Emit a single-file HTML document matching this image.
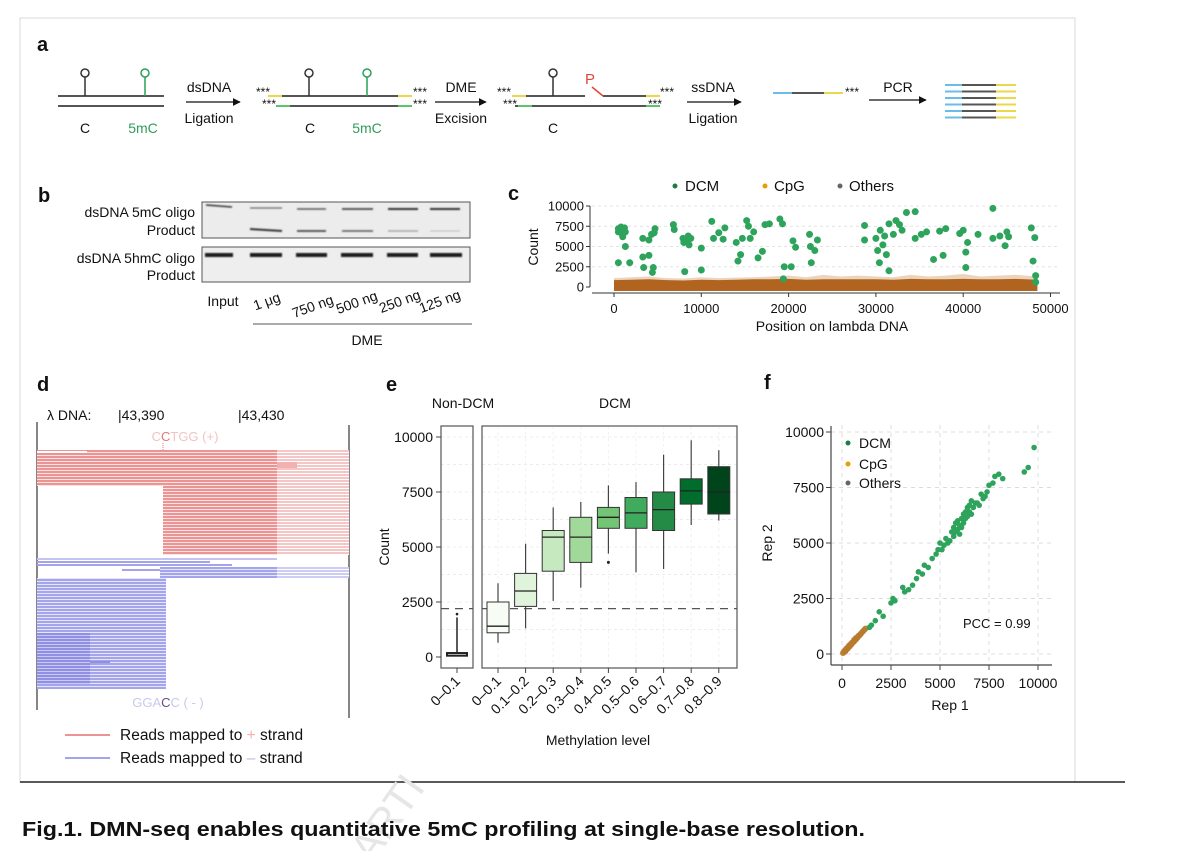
<!DOCTYPE html>
<html><head><meta charset="utf-8">
<style>
html,body{margin:0;padding:0;background:#fff;}
svg{display:block;font-family:"Liberation Sans",Arial,sans-serif;}
</style></head>
<body>
<svg id="fig" width="1200" height="851" viewBox="0 0 1200 851" xmlns="http://www.w3.org/2000/svg">
<defs>
  <pattern id="pRed" width="4" height="3" patternUnits="userSpaceOnUse"><rect width="4" height="3" fill="#fbe3e3"/><rect width="4" height="2" fill="#ec9494"/></pattern>
  <pattern id="pRedL" width="4" height="3" patternUnits="userSpaceOnUse"><rect width="4" height="3" fill="#fff"/><rect width="4" height="2" fill="#f5c6c6"/></pattern>
  <pattern id="pBlue" width="4" height="3" patternUnits="userSpaceOnUse"><rect width="4" height="3" fill="#e6e6fb"/><rect width="4" height="2" fill="#a4a4ec"/></pattern>
  <pattern id="pBlueD" width="4" height="3" patternUnits="userSpaceOnUse"><rect width="4" height="3" fill="#c9c9f3"/><rect width="4" height="2" fill="#8f8fe3"/></pattern>
  <pattern id="pBlueL" width="4" height="3" patternUnits="userSpaceOnUse"><rect width="4" height="3" fill="#fff"/><rect width="4" height="2" fill="#ccccf5"/></pattern>
  <filter id="blur1"><feGaussianBlur stdDeviation="0.8"/></filter>
  <marker id="arr" viewBox="0 0 10 10" refX="9" refY="5" markerWidth="6" markerHeight="6" orient="auto"><path d="M0,0L10,5L0,10z" fill="#111"/></marker>
</defs>

<rect x="20" y="18" width="1055" height="764" fill="none" stroke="#d8d8d8" stroke-width="1"/>
<line x1="20" y1="782" x2="1125" y2="782" stroke="#222" stroke-width="1.5"/>
<text x="330" y="835" font-size="42" fill="#e6e6e6" transform="rotate(-55 380 810)">ARTI</text>
<text x="22" y="836" font-size="20" font-weight="bold" fill="#111" textLength="843" lengthAdjust="spacingAndGlyphs">Fig.1. DMN-seq enables quantitative 5mC profiling at single-base resolution.</text>

<!-- Panel a -->
<g font-size="14" fill="#111">
  <text x="37" y="51" font-size="20" font-weight="bold">a</text>
  <line x1="58" y1="96" x2="164" y2="96" stroke="#555" stroke-width="2"/>
  <line x1="58" y1="106" x2="164" y2="106" stroke="#555" stroke-width="2"/>
  <line x1="85" y1="77" x2="85" y2="96" stroke="#333" stroke-width="1.5"/><circle cx="85" cy="73" r="4" fill="#fff" stroke="#333" stroke-width="1.5"/>
  <line x1="145" y1="77" x2="145" y2="96" stroke="#2e9e5b" stroke-width="1.5"/><circle cx="145" cy="73" r="4" fill="#fff" stroke="#2e9e5b" stroke-width="1.5"/>
  <text x="85" y="133" text-anchor="middle">C</text>
  <text x="143" y="133" text-anchor="middle" fill="#2e9e5b">5mC</text>
  <text x="209" y="92" text-anchor="middle">dsDNA</text>
  <line x1="186" y1="102" x2="240" y2="102" stroke="#111" stroke-width="1.3" marker-end="url(#arr)"/>
  <text x="209" y="123" text-anchor="middle">Ligation</text>
  <text x="256" y="96" font-size="12">***</text><text x="262" y="108" font-size="12">***</text>
  <line x1="279" y1="96" x2="410" y2="96" stroke="#555" stroke-width="2"/>
  <line x1="279" y1="106" x2="410" y2="106" stroke="#555" stroke-width="2"/>
  <line x1="268" y1="96" x2="282" y2="96" stroke="#e8d84a" stroke-width="2"/><line x1="398" y1="96" x2="412" y2="96" stroke="#e8d84a" stroke-width="2"/>
  <line x1="276" y1="106" x2="290" y2="106" stroke="#5cc46a" stroke-width="2"/><line x1="398" y1="106" x2="412" y2="106" stroke="#5cc46a" stroke-width="2"/>
  <line x1="309" y1="77" x2="309" y2="96" stroke="#333" stroke-width="1.5"/><circle cx="309" cy="73" r="4" fill="#fff" stroke="#333" stroke-width="1.5"/>
  <line x1="367" y1="77" x2="367" y2="96" stroke="#2e9e5b" stroke-width="1.5"/><circle cx="367" cy="73" r="4" fill="#fff" stroke="#2e9e5b" stroke-width="1.5"/>
  <text x="310" y="133" text-anchor="middle">C</text>
  <text x="367" y="133" text-anchor="middle" fill="#2e9e5b">5mC</text>
  <text x="413" y="96" font-size="12">***</text><text x="413" y="108" font-size="12">***</text>
  <text x="461" y="92" text-anchor="middle">DME</text>
  <line x1="435" y1="102" x2="486" y2="102" stroke="#111" stroke-width="1.3" marker-end="url(#arr)"/>
  <text x="461" y="123" text-anchor="middle">Excision</text>
  <text x="497" y="96" font-size="12">***</text><text x="503" y="108" font-size="12">***</text>
  <line x1="515" y1="96" x2="585" y2="96" stroke="#555" stroke-width="2"/>
  <line x1="603" y1="96" x2="658" y2="96" stroke="#555" stroke-width="2"/>
  <line x1="515" y1="106" x2="658" y2="106" stroke="#555" stroke-width="2"/>
  <line x1="512" y1="96" x2="526" y2="96" stroke="#e8d84a" stroke-width="2"/><line x1="646" y1="96" x2="660" y2="96" stroke="#e8d84a" stroke-width="2"/>
  <line x1="518" y1="106" x2="532" y2="106" stroke="#5cc46a" stroke-width="2"/><line x1="646" y1="106" x2="660" y2="106" stroke="#5cc46a" stroke-width="2"/>
  <line x1="553" y1="77" x2="553" y2="96" stroke="#333" stroke-width="1.5"/><circle cx="553" cy="73" r="4" fill="#fff" stroke="#333" stroke-width="1.5"/>
  <text x="585" y="84" fill="#e0463a" font-size="15">P</text>
  <line x1="592" y1="87" x2="603" y2="96" stroke="#e0463a" stroke-width="1.5"/>
  <text x="553" y="133" text-anchor="middle">C</text>
  <text x="660" y="96" font-size="12">***</text><text x="648" y="108" font-size="12">***</text>
  <text x="713" y="92" text-anchor="middle">ssDNA</text>
  <line x1="687" y1="102" x2="741" y2="102" stroke="#111" stroke-width="1.3" marker-end="url(#arr)"/>
  <text x="713" y="123" text-anchor="middle">Ligation</text>
  <line x1="773" y1="93" x2="792" y2="93" stroke="#6bbde8" stroke-width="2"/>
  <line x1="792" y1="93" x2="824" y2="93" stroke="#555" stroke-width="2"/>
  <line x1="824" y1="93" x2="843" y2="93" stroke="#e8d84a" stroke-width="2"/>
  <text x="845" y="96" font-size="12">***</text>
  <text x="898" y="92" text-anchor="middle">PCR</text>
  <line x1="869" y1="100" x2="926" y2="100" stroke="#111" stroke-width="1.3" marker-end="url(#arr)"/>
  <g><g id="pcrLines"></g></g>
</g>

<!-- Panel b -->
<g font-size="14" fill="#111">
  <text x="38" y="202" font-size="20" font-weight="bold">b</text>
  <text x="195" y="217" text-anchor="end">dsDNA 5mC oligo</text>
  <text x="195" y="235" text-anchor="end">Product</text>
  <text x="195" y="263" text-anchor="end">dsDNA 5hmC oligo</text>
  <text x="195" y="280" text-anchor="end">Product</text>
  <rect x="202" y="202" width="268" height="36" fill="#ececec" stroke="#555" stroke-width="1"/>
  <rect x="202" y="247" width="268" height="35" fill="#eeeeee" stroke="#555" stroke-width="1"/>
  <g filter="url(#blur1)">
    <line x1="206" y1="205" x2="232" y2="207" stroke="#333" stroke-width="1.6"/>
    <line x1="250" y1="208" x2="282" y2="208" stroke="#666" stroke-width="1.3"/>
    <line x1="297" y1="209" x2="326" y2="209" stroke="#555" stroke-width="1.5"/>
    <line x1="342" y1="209" x2="373" y2="209" stroke="#444" stroke-width="1.7"/>
    <line x1="388" y1="209" x2="418" y2="209" stroke="#333" stroke-width="2"/>
    <line x1="430" y1="209" x2="460" y2="209" stroke="#333" stroke-width="2"/>
    <line x1="250" y1="229" x2="282" y2="231" stroke="#333" stroke-width="2"/>
    <line x1="297" y1="231" x2="326" y2="231" stroke="#444" stroke-width="1.8"/>
    <line x1="342" y1="231" x2="373" y2="231" stroke="#555" stroke-width="1.5"/>
    <line x1="388" y1="231" x2="418" y2="231" stroke="#999" stroke-width="1.2"/>
    <line x1="430" y1="231" x2="460" y2="231" stroke="#bbb" stroke-width="1"/>
    <line x1="205" y1="255" x2="233" y2="255" stroke="#1a1a1a" stroke-width="4"/>
    <line x1="250" y1="255" x2="282" y2="255" stroke="#1a1a1a" stroke-width="4"/>
    <line x1="296" y1="255" x2="327" y2="255" stroke="#1a1a1a" stroke-width="4"/>
    <line x1="341" y1="255" x2="373" y2="255" stroke="#1a1a1a" stroke-width="4"/>
    <line x1="387" y1="255" x2="418" y2="255" stroke="#1a1a1a" stroke-width="4"/>
    <line x1="430" y1="255" x2="462" y2="255" stroke="#1a1a1a" stroke-width="4"/>
  </g>
  <text x="223" y="306" text-anchor="middle">Input</text>
  <text x="267" y="306" text-anchor="middle" transform="rotate(-20 267 302)">1 μg</text>
  <text x="313" y="311" text-anchor="middle" transform="rotate(-20 313 307)">750 ng</text>
  <text x="357" y="307" text-anchor="middle" transform="rotate(-20 357 303)">500 ng</text>
  <text x="400" y="306" text-anchor="middle" transform="rotate(-20 400 302)">250 ng</text>
  <text x="440" y="306" text-anchor="middle" transform="rotate(-20 440 302)">125 ng</text>
  <line x1="253" y1="324" x2="472" y2="324" stroke="#555" stroke-width="1"/>
  <text x="367" y="345" text-anchor="middle">DME</text>
</g>

<!-- Panel c -->
<g id="panelC" font-size="13" fill="#111">
  <text x="508" y="200" font-size="20" font-weight="bold">c</text>
  <g font-size="15">
    <circle cx="675" cy="186" r="2.5" fill="#1f7a45"/><text x="685" y="191">DCM</text>
    <circle cx="765" cy="186" r="2.5" fill="#e69f00"/><text x="774" y="191">CpG</text>
    <circle cx="840" cy="186" r="2.5" fill="#666"/><text x="849" y="191">Others</text>
  </g>
  <text transform="translate(538 247) rotate(-90)" text-anchor="middle" font-size="14">Count</text>
  <text x="832" y="331" text-anchor="middle" font-size="14">Position on lambda DNA</text>
  <g id="cGrid"></g><g id="cMarks"></g><g id="cAxes"></g>
</g>

<!-- Panel d -->
<g font-size="14" fill="#111">
  <text x="37" y="391" font-size="20" font-weight="bold">d</text>
  <text x="47" y="420">λ DNA:</text>
  <text x="118" y="420">|43,390</text>
  <text x="238" y="420">|43,430</text>
  <line x1="37" y1="422" x2="37" y2="710" stroke="#444" stroke-width="1.3"/>
  <line x1="349" y1="425" x2="349" y2="718" stroke="#444" stroke-width="1.3"/>
  <text x="185" y="441" text-anchor="middle" fill="#f0c4c4" font-size="13">C<tspan fill="#e07878">C</tspan>TGG (+)</text>
  <line x1="163" y1="443" x2="163" y2="450" stroke="#e07878" stroke-dasharray="1 1"/>
  <g>
    <rect x="37" y="450" width="240" height="36" fill="url(#pRed)"/>
    <rect x="37" y="451" width="50" height="2" fill="#fff"/>
    <rect x="277" y="450" width="72" height="105" fill="url(#pRedL)"/>
    <rect x="163" y="486" width="114" height="69" fill="url(#pRed)"/>
    <rect x="277" y="462" width="20" height="6" fill="#f2b0b0"/>
  </g>
  <g>
    <rect x="37" y="558" width="240" height="2" fill="#c4c4f2"/>
    <rect x="37" y="561" width="173" height="2" fill="#a4a4ec"/>
    <rect x="37" y="564" width="195" height="2" fill="#a4a4ec"/>
    <rect x="122" y="569" width="40" height="2" fill="#a4a4ec"/>
    <rect x="160" y="567" width="117" height="11" fill="url(#pBlue)"/>
    <rect x="277" y="567" width="72" height="11" fill="url(#pBlueL)"/>
    <rect x="37" y="578" width="129" height="111" fill="url(#pBlue)"/>
    <rect x="37" y="633" width="53" height="51" fill="url(#pBlueD)"/>
    <rect x="90" y="661" width="20" height="2" fill="#8f8fe3"/>
  </g>
  <text x="168" y="707" text-anchor="middle" fill="#c8c8ef" font-size="13">GGA<tspan fill="#6a4a8a">C</tspan>C ( - )</text>
  <g font-size="15.5">
    <line x1="65" y1="735" x2="110" y2="735" stroke="#ec9494" stroke-width="2"/>
    <text x="120" y="740">Reads mapped to <tspan fill="#f3b0b0">+</tspan> strand</text>
    <line x1="65" y1="758" x2="110" y2="758" stroke="#a4a4ec" stroke-width="2"/>
    <text x="120" y="763">Reads mapped to <tspan fill="#b4b4f0">–</tspan> strand</text>
  </g>
</g>

<!-- Panel e -->
<g id="panelE" font-size="14" fill="#111">
  <text x="386" y="391" font-size="20" font-weight="bold">e</text>
  <text x="463" y="408" text-anchor="middle">Non-DCM</text>
  <text x="615" y="408" text-anchor="middle">DCM</text>
  <text transform="translate(389 547) rotate(-90)" text-anchor="middle">Count</text>
  <text x="598" y="745" text-anchor="middle">Methylation level</text>
  <g id="eGrid"></g><g id="eMarks"></g><g id="eAxes"></g>
</g>

<!-- Panel f -->
<g id="panelF" font-size="14" fill="#111">
  <text x="764" y="389" font-size="20" font-weight="bold">f</text>
  <text transform="translate(772 543) rotate(-90)" text-anchor="middle">Rep 2</text>
  <text x="950" y="710" text-anchor="middle">Rep 1</text>
  <g id="fGrid"></g><g id="fMarks"></g><g id="fAxes"></g>
  <g>
    <circle cx="848" cy="443" r="2.5" fill="#1f7a45"/><text x="859" y="448">DCM</text>
    <circle cx="848" cy="464" r="2.5" fill="#e69f00"/><text x="859" y="469">CpG</text>
    <circle cx="848" cy="483" r="2.5" fill="#666"/><text x="859" y="488">Others</text>
  </g>
  <text x="963" y="628" font-size="13">PCC = 0.99</text>
</g>
</svg>

<script>
const cYTicks = [0, 2500, 5000, 7500, 10000];
const cXTicks = [0, 10000, 20000, 30000, 40000, 50000];
const cDcmPos = [500,500,500,700,800,900,1000,1200,1300,1300,1800,3300,3300,3400,4000,4000,4300,4400,4500,4600,4700,6800,6900,7900,8000,8100,8300,8500,8600,8800,10000,10000,11200,11400,12000,12500,12700,14000,14200,14500,14700,15200,15400,15600,16000,16500,17000,17300,17800,19000,19300,19400,19500,20300,20500,20800,22400,22500,22600,23000,23300,28700,28700,30000,30200,30400,30500,30800,31000,31200,31500,31500,32000,32300,32700,33000,33500,34500,34500,35200,35800,36600,37300,37700,38000,39600,40000,40300,40300,40500,41700,43400,43400,44200,44800,45000,45200,47800,48200,48000,48300,48300];
const cDcmCount = [7200,6800,3000,7000,7400,6600,6200,7300,5000,6800,3000,6000,3700,2400,5800,3900,6500,1800,2400,6700,7200,7700,7100,6000,5500,1900,5800,6300,5200,6000,4800,2100,8100,6000,6700,5900,7300,5500,3200,4000,6000,8200,7500,6000,6800,3600,4400,7700,7800,8400,7800,1000,2500,2500,5700,4900,6500,5000,3000,4500,5800,7600,5800,6000,4500,3000,7000,5200,6300,4000,7800,2000,6500,8200,7700,7000,9200,9300,6000,6500,6800,3400,6900,3900,7200,6600,7000,4300,2400,5500,6500,9700,6000,6300,5100,6800,6200,7300,6100,3200,1400,600];
const cBandPos = [0,2000,4000,6000,8000,10000,12000,14000,16000,18000,20000,22000,24000,26000,28000,30000,32000,34000,36000,38000,40000,42000,44000,46000,48500];
const cBandTop = [1100,1200,1300,1100,1050,1200,1100,1150,1200,1300,1400,1200,1500,1300,1400,1300,1200,1500,1300,1400,1600,1300,1400,1500,1300];
const cBandCore = [850,900,950,850,800,900,850,900,950,950,1000,900,950,950,950,950,900,1000,950,950,1000,950,950,1000,900];

const eCats = ["0–0.1","0.1–0.2","0.2–0.3","0.3–0.4","0.4–0.5","0.5–0.6","0.6–0.7","0.7–0.8","0.8–0.9"];
const eMin = [650,1300,2550,3150,4700,3850,4000,6000,6200];
const eQ1 = [1100,2300,3900,4300,5850,5850,5750,6950,6500];
const eMed = [1400,3000,5450,5450,6350,6550,6700,7550,7500];
const eQ3 = [2500,3800,5750,6350,6800,7250,7500,8100,8650];
const eMax = [3350,5150,6800,7050,7800,7950,9200,9850,9400];
const eOutliers = [[4, 4300]];
const eNonDcm = {cat:"0–0.1", min:30, q1:60, med:100, q3:180, max:1800, outlier:1950};
const eYTicks = [0, 2500, 5000, 7500, 10000];
const eThreshold = 2200;
const eColors = ["#f7fcf5","#e0f3db","#c7e9c0","#a1d99b","#74c476","#41ab5d","#238b45","#006d2c","#00441b"];

const fTicks = [0, 2500, 5000, 7500, 10000];
const fDcmRep1 = [1400,1500,1700,1900,2100,2500,2600,2700,3100,3200,3400,3600,3800,3900,4100,4200,4400,4600,4800,4900,5000,5100,5200,5300,5400,5500,5600,5700,5700,5800,5800,5900,5900,6000,6000,6100,6100,6200,6200,6300,6300,6400,6400,6500,6500,6600,6600,6700,6800,6900,7000,7100,7200,7300,7400,7500,7700,7800,8000,8200,9300,9500,9800];
const fDcmRep2 = [1200,1300,1500,1900,1700,2300,2500,2400,3000,2800,2900,3100,3400,3700,3600,4000,3900,4300,4500,4700,5000,4700,4900,5200,5000,5100,5500,5300,5700,5500,5900,5600,6000,5800,5400,6100,5700,6300,5900,6400,6100,6200,6600,6400,6700,6300,6900,6600,6800,6800,6700,7200,7000,7100,7300,7600,7700,8000,8100,7900,8200,8400,9300];
const fCpgRep1 = [50,80,120,150,200,220,250,300,320,350,380,400,450,480,500,550,600,620,650,700,720,750,800,850,900,950,1000,1050,1100,1150,1200,300,400,500,600,700,800,900,200,150];
const fCpgRep2 = [40,90,100,170,180,240,220,280,330,320,400,370,420,490,470,530,560,640,610,680,730,700,760,820,850,900,950,1000,1050,1100,1150,250,350,450,550,650,750,850,160,100];

const NS = "http://www.w3.org/2000/svg";
function mk(parent, tag, attrs){ const e=document.createElementNS(NS,tag); for(const k in attrs) e.setAttribute(k, attrs[k]); parent.appendChild(e); return e; }

(function(){
  const g=document.getElementById('pcrLines');
  for(let i=0;i<6;i++){
    const y=85+i*6.5;
    const a=mk(g,'line',{x1:945,y1:y,x2:962,y2:y,stroke:'#6bbde8','stroke-width':2});
    
    
    const b=mk(g,'line',{x1:962,y1:y,x2:996,y2:y,stroke:'#555','stroke-width':2});
    
    
    const c=mk(g,'line',{x1:996,y1:y,x2:1016,y2:y,stroke:'#e8d84a','stroke-width':2});
    
    
  }
})();

(function(){
  const x = v => 614 + v*0.00873;
  const y = v => 287 - v*0.0081;
  const grid=document.getElementById('cGrid'), marks=document.getElementById('cMarks'), ax=document.getElementById('cAxes');
  cYTicks.forEach(t=>{ if(t>0){ const l=mk(grid,'line',{x1:592,x2:1060,y1:y(t),y2:y(t),stroke:'#e4e4e4','stroke-dasharray':'3 3'});
     }});
  let top='M'+x(cBandPos[0])+','+y(0);
  cBandPos.forEach((p,i)=>{ top+=' L'+x(p)+','+y(cBandTop[i]); });
  top+=' L'+x(cBandPos[cBandPos.length-1])+','+y(0)+' Z';
  const b1=mk(marks,'path',{d:top,fill:'#d9a877',opacity:0.5});
   
  let core='M'+x(cBandPos[0])+','+(y(0)+4);
  cBandPos.forEach((p,i)=>{ core+=' L'+x(p)+','+y(cBandCore[i]); });
  core+=' L'+x(cBandPos[cBandPos.length-1])+','+(y(0)+4)+' Z';
  const b2=mk(marks,'path',{d:core,fill:'#b0641f'});
   
  cDcmPos.forEach((p,i)=>{ const c=mk(marks,'circle',{cx:x(p),cy:y(cDcmCount[i]),r:3.5,fill:'#2ea35c'});
      });
  const ya=mk(ax,'line',{x1:590,x2:590,y1:y(10000),y2:y(0),stroke:'#333'});
   
  const xa=mk(ax,'line',{x1:592,x2:1060,y1:293,y2:293,stroke:'#333'});
   
  cYTicks.forEach(t=>{ mk(ax,'line',{x1:586,x2:590,y1:y(t),y2:y(t),stroke:'#333'});
    const tx=mk(ax,'text',{x:584,y:y(t)+4.5,'text-anchor':'end','font-size':13}); tx.textContent=t;
      });
  cXTicks.forEach(t=>{ mk(ax,'line',{x1:x(t),x2:x(t),y1:293,y2:297,stroke:'#333'});
    const tx=mk(ax,'text',{x:x(t),y:313,'text-anchor':'middle','font-size':13}); tx.textContent=t;
      });
})();

(function(){
  const y = v => 657 - v*0.022;
  const xc = i => 498 + i*27.6;
  const grid=document.getElementById('eGrid'), marks=document.getElementById('eMarks'), ax=document.getElementById('eAxes');
  [1250,3750,6250,8750,2500,5000,7500,10000].forEach(t=>{
    [[441,473],[482,737]].forEach(r=>{ const l=mk(grid,'line',{x1:r[0],x2:r[1],y1:y(t),y2:y(t),stroke:'#ececec','stroke-dasharray':'3 3'});
        });
  });
  eCats.forEach((c,i)=>{ const l=mk(grid,'line',{x1:xc(i),x2:xc(i),y1:426,y2:668,stroke:'#f0f0f0','stroke-dasharray':'3 3'});
      });
  const p1=mk(ax,'rect',{x:441,y:426,width:32,height:242,fill:'none',stroke:'#555','stroke-width':1.2});
   
  const p2=mk(ax,'rect',{x:482,y:426,width:255,height:242,fill:'none',stroke:'#555','stroke-width':1.2});
   
  [[441,473],[482,737]].forEach(r=>{ const l=mk(marks,'line',{x1:r[0],x2:r[1],y1:y(eThreshold),y2:y(eThreshold),stroke:'#555','stroke-dasharray':'8 6','stroke-width':1.2});
      });
  const nx=457;
  mk(marks,'line',{x1:nx,x2:nx,y1:y(eNonDcm.max),y2:y(eNonDcm.min),stroke:'#222','stroke-width':1.5});
  const nb=mk(marks,'rect',{x:nx-10,y:y(eNonDcm.q3),width:20,height:Math.max(2,y(eNonDcm.q1)-y(eNonDcm.q3)),fill:'#f7fcf5',stroke:'#222','stroke-width':2});
   
  mk(marks,'circle',{cx:nx,cy:y(eNonDcm.outlier),r:1.3,fill:'#222'});
  eCats.forEach((c,i)=>{
    const x=xc(i), w=22;
    const wl=mk(marks,'line',{x1:x,x2:x,y1:y(eMax[i]),y2:y(eMin[i]),stroke:'#444','stroke-width':1.2});
     
    const r=mk(marks,'rect',{x:x-w/2,y:y(eQ3[i]),width:w,height:y(eQ1[i])-y(eQ3[i]),fill:eColors[i],stroke:'#333','stroke-width':1});
     
    const m=mk(marks,'line',{x1:x-w/2,x2:x+w/2,y1:y(eMed[i]),y2:y(eMed[i]),stroke:'#222','stroke-width':1.3});
     
  });
  eOutliers.forEach(o=>{ const c=mk(marks,'circle',{cx:xc(o[0]),cy:y(o[1]),r:1.5,fill:'#222'});
      });
  eYTicks.forEach(t=>{ mk(ax,'line',{x1:436,x2:441,y1:y(t),y2:y(t),stroke:'#444'});
    const tx=mk(ax,'text',{x:433,y:y(t)+5,'text-anchor':'end'}); tx.textContent=t;
      });
  const labs=[[nx,eNonDcm.cat]].concat(eCats.map((c,i)=>[xc(i),c]));
  labs.forEach(l=>{ mk(ax,'line',{x1:l[0],x2:l[0],y1:668,y2:673,stroke:'#444'});
    const tx=mk(ax,'text',{x:l[0]+4,y:682,'text-anchor':'end',transform:'rotate(-45 '+(l[0]+4)+' 682)'}); tx.textContent=l[1];
      });
})();

(function(){
  const x = v => 842 + v*0.0196;
  const y = v => 654 - v*0.0222;
  const grid=document.getElementById('fGrid'), marks=document.getElementById('fMarks'), ax=document.getElementById('fAxes');
  fTicks.forEach(t=>{
    const a=mk(grid,'line',{x1:831,x2:1052,y1:y(t),y2:y(t),stroke:'#dcdcdc','stroke-dasharray':'4 4'});
     
    const b=mk(grid,'line',{x1:x(t),x2:x(t),y1:425,y2:665,stroke:'#dcdcdc','stroke-dasharray':'4 4'});
     
  });
  fCpgRep1.forEach((v,i)=>{ const c=mk(marks,'circle',{cx:x(v),cy:y(fCpgRep2[i]),r:3,fill:'#b87a2e',opacity:0.85});
      });
  fDcmRep1.forEach((v,i)=>{ const c=mk(marks,'circle',{cx:x(v),cy:y(fDcmRep2[i]),r:2.8,fill:'#2ea35c'});
      });
  const ya=mk(ax,'line',{x1:831,x2:831,y1:426,y2:665,stroke:'#444','stroke-width':1.2});
   
  const xa=mk(ax,'line',{x1:831,x2:1052,y1:665,y2:665,stroke:'#444','stroke-width':1.2});
   
  fTicks.forEach(t=>{
    mk(ax,'line',{x1:826,x2:831,y1:y(t),y2:y(t),stroke:'#444'});
    const a=mk(ax,'text',{x:824,y:y(t)+5,'text-anchor':'end'}); a.textContent=t;
     
    mk(ax,'line',{x1:x(t),x2:x(t),y1:665,y2:670,stroke:'#444'});
    const b=mk(ax,'text',{x:x(t),y:688,'text-anchor':'middle'}); b.textContent=t;
     
  });
})();
</script>
</body></html>
